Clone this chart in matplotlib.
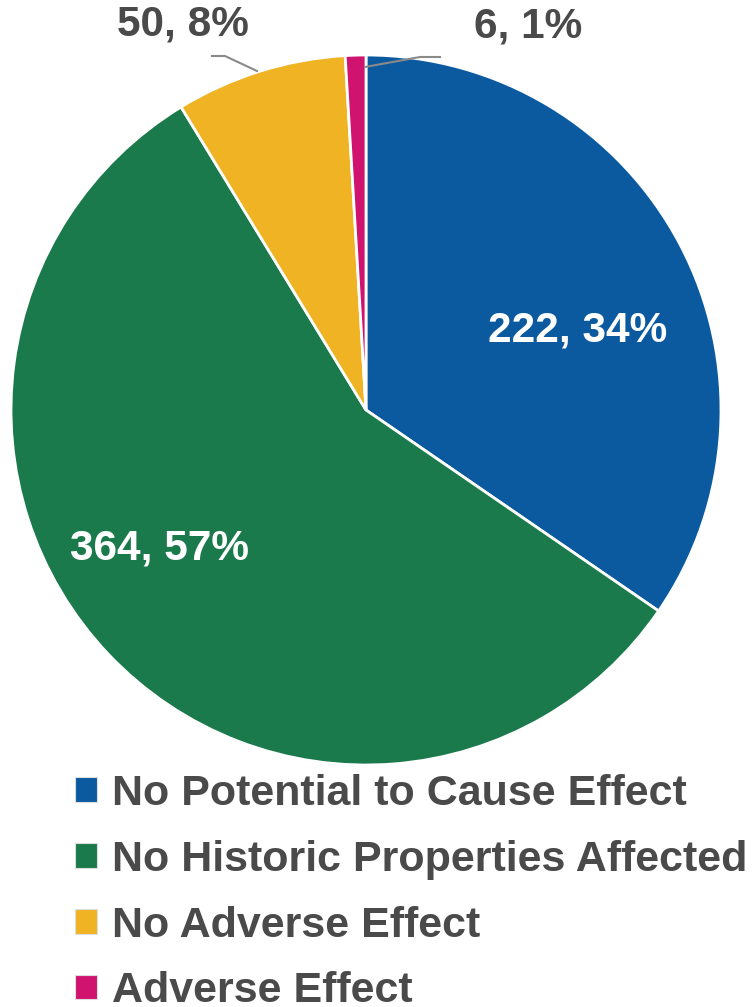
import matplotlib
matplotlib.use("Agg")
import matplotlib.pyplot as plt
from matplotlib.patches import Patch

# data
categories = ["No Potential to Cause Effect", "No Historic Properties Affected",
              "No Adverse Effect", "Adverse Effect"]
counts = [222, 364, 50, 6]
percents = [34, 57, 8, 1]
colors = ["#0b5aa0", "#1a7a4c", "#f0b323", "#d0136e"]

plt.rcParams['font.family'] = ['Liberation Sans', 'DejaVu Sans']
gray = "#4a4a4a"

fig = plt.figure(figsize=(7.52, 10.07), dpi=100)
ax = fig.add_axes([0, 0, 1, 1])
ax.axis('off')

cx, cy, R = 366, 1007 - 410, 355
ax.pie(counts, colors=colors, startangle=90, counterclock=False,
       center=(cx, cy), radius=R,
       wedgeprops=dict(edgecolor='white', linewidth=2))
ax.set_xlim(0, 752)
ax.set_ylim(0, 1007)
ax.set_aspect('auto')

labels = [f"{c}, {p}%" for c, p in zip(counts, percents)]
# label offsets from pie center (pixels)
offsets = [(212, 79), (-206, -139), (-183, 386), (162, 384)]
for i, (lab, (dx, dy)) in enumerate(zip(labels, offsets)):
    col = 'white' if i < 2 else gray
    ax.text(cx + dx, cy + dy, lab, ha='center', va='center', fontsize=30.5,
            fontweight='bold', color=col)

# leader lines
ax.plot([212, 225, 257], [1007 - 56, 1007 - 56, 1007 - 71], color='#8a8a8a', lw=1.5)
ax.plot([440, 420, 365], [1007 - 57, 1007 - 57, 1007 - 67], color='#8a8a8a', lw=1.5)

handles = [Patch(facecolor=c, edgecolor='#dddddd', linewidth=0.8) for c in colors]
leg = fig.legend(handles, categories, loc='upper left',
                 bbox_to_anchor=(75 / 752, 1 - 774 / 1007), frameon=False,
                 fontsize=31, handlelength=0.5, handleheight=0.5,
                 handletextpad=0.35, labelspacing=0.6, borderpad=0,
                 borderaxespad=0)
for t in leg.get_texts():
    t.set_color(gray)
    t.set_fontweight('bold')

fig.savefig("out.png", dpi=100, facecolor='white')
